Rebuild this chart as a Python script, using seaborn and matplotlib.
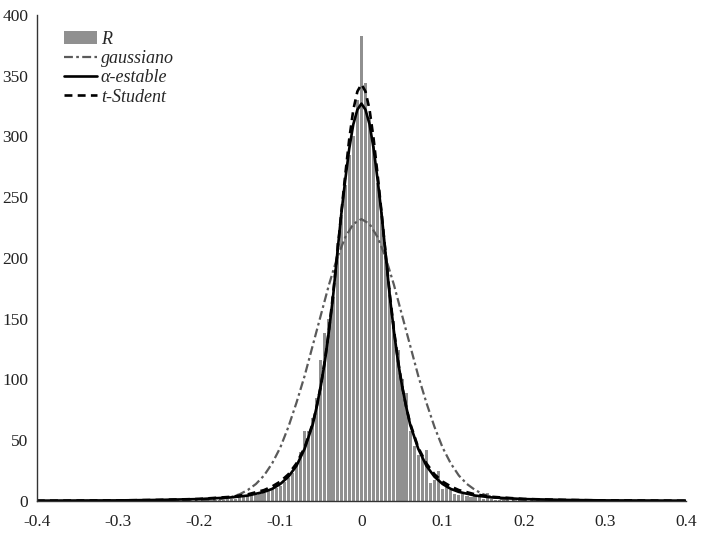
import numpy as np
import pandas as pd
import matplotlib
matplotlib.use("Agg")
import matplotlib.pyplot as plt
import seaborn as sns
from matplotlib.patches import Patch
from matplotlib.lines import Line2D

# histogram of returns R (bin centres, counts)
bin_centers = [round(-0.2 + 0.005 * i, 3) for i in range(81)]
counts = [0, 1, 0, 1, 1, 1, 1, 2, 2, 2,
          3, 3, 4, 5, 5, 6, 7, 9, 10, 11,
          12, 16, 19, 23, 31, 40, 58, 58, 68, 85,
          116, 138, 150, 168, 212, 235, 260, 285, 300, 330,
          383,
          344, 315, 292, 262, 238, 205, 175, 148, 124, 100,
          89, 58, 45, 38, 35, 42, 15, 17, 25, 10,
          12, 9, 6, 5, 6, 4, 3, 4, 3, 2,
          7, 2, 1, 1, 1, 1, 0, 1, 0, 0]

# fitted curves
gauss_x = [-0.4, -0.25, -0.22, -0.2, -0.19, -0.18, -0.17, -0.16, -0.15, -0.14, -0.13, -0.12,
           -0.11, -0.10, -0.09, -0.08, -0.07, -0.06, -0.05, -0.04, -0.03, -0.02, -0.01, 0.0,
           0.01, 0.02, 0.03, 0.04, 0.05, 0.06, 0.07, 0.08, 0.09, 0.10, 0.11, 0.12,
           0.13, 0.14, 0.15, 0.16, 0.17, 0.18, 0.19, 0.2, 0.22, 0.25, 0.4]
gauss_y = [0, 0, 0.1, 0.3, 0.6, 1.1, 2.0, 3.4, 5.6, 9.1, 14, 21,
           31, 44, 61, 81, 103, 128, 153, 178, 200, 217, 228, 232,
           228, 217, 200, 178, 153, 128, 103, 81, 61, 44, 31, 21,
           14, 9.1, 5.6, 3.4, 2.0, 1.1, 0.6, 0.3, 0.1, 0, 0]

stable_x = [-0.4, -0.3, -0.25, -0.2, -0.16, -0.14, -0.12, -0.11, -0.10, -0.09, -0.08, -0.07,
            -0.06, -0.055, -0.05, -0.045, -0.04, -0.035, -0.03, -0.025, -0.02, -0.015,
            -0.01, -0.005, 0.0, 0.005, 0.01, 0.015, 0.02, 0.025, 0.03, 0.035,
            0.04, 0.045, 0.05, 0.055, 0.06, 0.07, 0.08, 0.09, 0.10, 0.11,
            0.12, 0.14, 0.16, 0.2, 0.25, 0.3, 0.4]
stable_y = [0.3, 0.5, 0.9, 1.6, 3, 4.5, 7.5, 10, 14, 20, 29, 43,
            63, 78, 95, 115, 140, 168, 202, 235, 264, 290,
            310, 322, 327, 322, 310, 290, 264, 235, 202, 168,
            140, 115, 95, 78, 63, 43, 29, 20, 14, 10,
            7.5, 4.5, 3, 1.6, 0.9, 0.5, 0.3]

tstud_x = stable_x
tstud_y = [0.2, 0.5, 0.9, 1.7, 3.5, 5.5, 9, 12, 16, 22, 31, 44,
           64, 78, 95, 116, 141, 170, 202, 236, 268, 298,
           322, 337, 343, 337, 322, 298, 268, 236, 202, 170,
           141, 116, 95, 78, 64, 44, 31, 22, 16, 12,
           9, 5.5, 3.5, 1.7, 0.9, 0.5, 0.2]

x_ticks = [-0.4, -0.3, -0.2, -0.1, 0, 0.1, 0.2, 0.3, 0.4]
x_labels = ["-0.4", "-0.3", "-0.2", "-0.1", "0", "0.1", "0.2", "0.3", "0.4"]
y_ticks = [0, 50, 100, 150, 200, 250, 300, 350, 400]

sns.set_style("white")
plt.rcParams['font.family'] = ['Liberation Serif', 'DejaVu Serif']

fig = plt.figure(figsize=(7.08, 5.33), dpi=100)
ax = fig.add_axes([0.052, 0.060, 0.917, 0.912])

bar_grey = "#909090"
gauss_dash = (0, (4, 1.5, 1.2, 1.5))
t_dash = (0, (3, 2))

edges = [round(-0.2025 + 0.005 * i, 4) for i in range(82)]
df = pd.DataFrame({"x": bin_centers, "n": counts})
sns.histplot(data=df, x="x", weights="n", bins=edges, shrink=0.78,
             color=bar_grey, alpha=1, edgecolor="none", linewidth=0, ax=ax)

sns.lineplot(x=gauss_x, y=gauss_y, color="#5a5a5a", linestyle=gauss_dash, linewidth=1.6, ax=ax)
sns.lineplot(x=stable_x, y=stable_y, color="black", linestyle="-", linewidth=1.9, ax=ax)
sns.lineplot(x=tstud_x, y=tstud_y, color="black", linestyle=t_dash, linewidth=1.9, ax=ax)

ax.set_xlim(-0.4, 0.4)
ax.set_ylim(0, 400)
ax.set_xticks(x_ticks)
ax.set_xticklabels(x_labels)
ax.set_yticks(y_ticks)
ax.set_xlabel("")
ax.set_ylabel("")
ax.tick_params(direction="in", length=5, width=0.8, colors="#333333",
               labelsize=12.5, labelcolor="#222222")
ax.tick_params(axis="x", pad=9)
ax.tick_params(axis="y", pad=6)

for side in ["top", "right"]:
    ax.spines[side].set_visible(False)
for side in ["left", "bottom"]:
    ax.spines[side].set_color("#333333")
    ax.spines[side].set_linewidth(1.0)

handles = [Patch(facecolor=bar_grey, edgecolor="none"),
           Line2D([], [], color="#5a5a5a", linestyle=gauss_dash, linewidth=1.6),
           Line2D([], [], color="black", linestyle="-", linewidth=1.9),
           Line2D([], [], color="black", linestyle=t_dash, linewidth=1.9)]
labels = ["R", "gaussiano", "α-estable", "t-Student"]
leg = ax.legend(handles, labels, loc="upper left", bbox_to_anchor=(0.025, 0.99),
                frameon=False, handlelength=1.85, handleheight=0.8, handletextpad=0.2,
                labelspacing=0.12, borderaxespad=0.2,
                prop={"family": "Liberation Serif", "style": "italic", "size": 13})

fig.savefig("out.png", dpi=100)
